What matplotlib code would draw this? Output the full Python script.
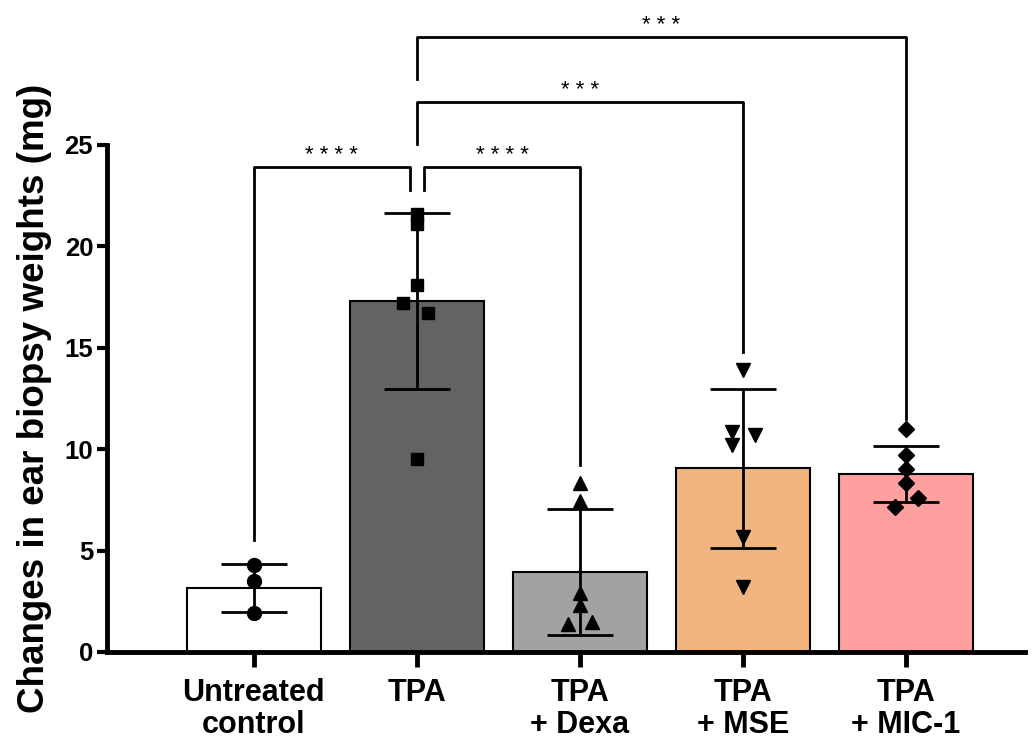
import matplotlib.pyplot as plt
import numpy as np

plt.rcParams['font.family'] = ['Liberation Sans', 'DejaVu Sans']
plt.rcParams['font.weight'] = 'bold'

# data
groups = ['Untreated\ncontrol', 'TPA', 'TPA\n+ Dexa', 'TPA\n+ MSE', 'TPA\n+ MIC-1']
means = [3.16, 17.32, 3.96, 9.06, 8.78]
sds = [1.18, 4.34, 3.1, 3.91, 1.4]
pts_untreated = [4.28, 3.5, 1.91]
pts_tpa = [21.6, 21.1, 18.1, 17.2, 16.7, 9.5]
pts_dexa = [8.32, 7.46, 2.89, 2.32, 1.38, 1.5]
pts_mse = [13.9, 10.86, 10.2, 10.7, 5.66, 3.22]
pts_mic = [11.0, 9.71, 9.01, 8.32, 7.61, 7.17]
stars = ['* * * *', '* * * *', '* * *', '* * *']

colors = ['white', '#636363', '#a2a2a5', '#f0b67e', '#ffa0a0']
markers = ['o', 's', '^', 'v', 'D']
msizes = [10, 8.5, 9.5, 9.5, 8]
# horizontal spread of the dots
jitter = [[0, 0, 0],
          [0, 0, 0, -0.085, 0.07, 0],
          [0, 0, 0, 0, -0.075, 0.075],
          [0, -0.068, -0.068, 0.072, 0, 0],
          [0, 0, 0, 0, 0.072, -0.068]]
all_pts = [pts_untreated, pts_tpa, pts_dexa, pts_mse, pts_mic]

fig = plt.figure(figsize=(10.32, 7.42), dpi=100)
ax = fig.add_axes([0.1037, 0.1213, 0.8895, 0.6833])

x = np.arange(len(groups))
ax.bar(x, means, width=0.82, color=colors, edgecolor='black', linewidth=1.5, zorder=2)
ax.errorbar(x, means, yerr=sds, fmt='none', ecolor='black', elinewidth=2,
            capsize=24, capthick=2, zorder=3)
for i, p in enumerate(all_pts):
    ax.plot(x[i] + np.array(jitter[i]), p, linestyle='none', marker=markers[i],
            color='black', markersize=msizes[i], zorder=4)

ax.set_xlim(-0.9, 4.73)
ax.set_ylim(0, 25)
ax.set_yticks([0, 5, 10, 15, 20, 25])
ax.set_xticks(x)
ax.set_xticklabels(groups, fontsize=22, fontweight='bold', linespacing=1.08)
ax.tick_params(axis='y', labelsize=18.5, width=3, length=7, direction='out', pad=3)
ax.tick_params(axis='x', width=3.5, length=11, direction='out', pad=8)
for lab in ax.get_yticklabels():
    lab.set_fontweight('bold')
ax.spines['top'].set_visible(False)
ax.spines['right'].set_visible(False)
ax.spines['left'].set_linewidth(3.5)
ax.spines['bottom'].set_linewidth(3.5)
ax.set_ylabel('Changes in ear biopsy weights (mg)', fontsize=26.5, fontweight='bold')
ax.yaxis.set_label_coords(-0.06, 0.5)

# significance brackets: (x1, x2, height, left leg end, right leg end, label)
brackets = [(0, 0.956, 23.92, 5.5, 22.8, stars[0]),
            (1.047, 2, 23.92, 22.8, 9.2, stars[1]),
            (1, 3, 27.14, 25.05, 14.8, stars[2]),
            (1, 4, 30.34, 28.25, 11.5, stars[3])]
for x1, x2, h, y1, y2, s in brackets:
    ax.plot([x1, x1, x2, x2], [y1, h, h, y2], color='black', linewidth=2,
            clip_on=False, zorder=5)
    ax.text((x1 + x2) / 2, h + 0.3, s, ha='center', va='baseline', fontsize=16,
            fontweight='normal')

fig.savefig('out.png', dpi=100)
